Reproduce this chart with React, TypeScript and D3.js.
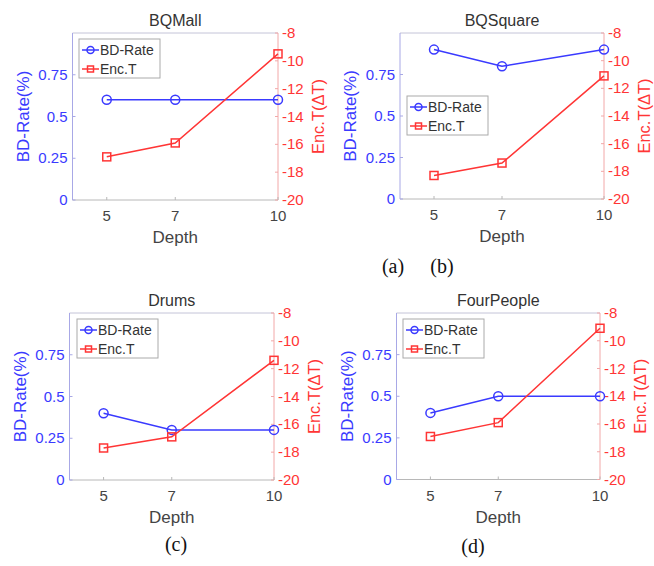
import React from 'react';
import * as d3 from 'd3';

const depths = [5, 7, 10];
const titles = ['BQMall', 'BQSquare', 'Drums', 'FourPeople'];
const bdRate = [
	[0.6, 0.6, 0.6],
	[0.9, 0.8, 0.9],
	[0.4, 0.3, 0.3],
	[0.4, 0.5, 0.5],
];
const encT = [
	[-16.9, -15.9, -9.5],
	[-18.3, -17.4, -11.1],
	[-17.7, -16.9, -11.4],
	[-16.9, -15.9, -9.1],
];
const leftTicks = [0, 0.25, 0.5, 0.75];
const rightTicks = [-20, -18, -16, -14, -12, -10, -8];
const captions = [
	{ text: '(a)', x: 393, y: 273 },
	{ text: '(b)', x: 442, y: 273 },
	{ text: '(c)', x: 176, y: 551 },
	{ text: '(d)', x: 473, y: 553 },
];

// plot boxes and legend spots, in page pixels
const panels = [
	{ left: 72.5, right: 278, top: 33, bottom: 200, lx: 79, ly: 39 },
	{ left: 400, right: 604, top: 33, bottom: 199, lx: 407, ly: 96 },
	{ left: 69.5, right: 274, top: 313, bottom: 480, lx: 77, ly: 319 },
	{ left: 396.5, right: 600, top: 313, bottom: 479.5, lx: 403, ly: 319 },
];

const BLUE = '#3a3aff';
const RED = '#ff3535';
const FONT = 'Liberation Sans, Arial, sans-serif';

const Panel = ({ i }) => {
	const p = panels[i];
	const x = d3.scaleLinear().domain([4, 10]).range([p.left, p.right]);
	const yl = d3.scaleLinear().domain([0, 1]).range([p.bottom, p.top]);
	const yr = d3.scaleLinear().domain([-20, -8]).range([p.bottom, p.top]);
	const bdLine = d3.line<number>().x((d, k) => x(depths[k])).y((d) => yl(d));
	const encLine = d3.line<number>().x((d, k) => x(depths[k])).y((d) => yr(d));
	const midY = (p.top + p.bottom) / 2;
	const cx = (p.left + p.right) / 2;

	return (
		<g fontFamily={ FONT }>
			<text x={ cx } y={ p.top - 7 } textAnchor="middle" fontSize={ 16 } fill="#333">{ titles[i] }</text>
			<line x1={ p.left } x2={ p.right } y1={ p.top } y2={ p.top } stroke="#c4c4d8" />
			<line x1={ p.left } x2={ p.right } y1={ p.bottom } y2={ p.bottom } stroke="#b8b8b8" />
			<line x1={ p.left } x2={ p.left } y1={ p.top } y2={ p.bottom } stroke="#a8a8e6" />
			<line x1={ p.right } x2={ p.right } y1={ p.top } y2={ p.bottom } stroke="#f2a8a8" />

			{ leftTicks.map((t) => (
				<g key={ 'l' + t }>
					<line x1={ p.left } x2={ p.left + 3 } y1={ yl(t) } y2={ yl(t) } stroke="#a8a8e6" />
					<text x={ p.left - 5 } y={ yl(t) + 5 } textAnchor="end" fontSize={ 15 } fill={ BLUE }>{ t }</text>
				</g>
			)) }
			{ rightTicks.map((t) => (
				<g key={ 'r' + t }>
					<line x1={ p.right - 3 } x2={ p.right } y1={ yr(t) } y2={ yr(t) } stroke="#f2a8a8" />
					<text x={ p.right + 4 } y={ yr(t) + 5 } fontSize={ 15 } fill={ RED }>{ t }</text>
				</g>
			)) }
			{ depths.map((d) => (
				<g key={ 'x' + d }>
					<line x1={ x(d) } x2={ x(d) } y1={ p.bottom } y2={ p.bottom - 3 } stroke="#b8b8b8" />
					<text x={ x(d) } y={ p.bottom + 21 } textAnchor="middle" fontSize={ 15 } fill="#444">{ d }</text>
				</g>
			)) }
			<text x={ cx } y={ p.bottom + 43 } textAnchor="middle" fontSize={ 17 } fill="#444">Depth</text>
			<text transform={ `translate(${ p.left - 44 },${ midY }) rotate(-90)` } textAnchor="middle" fontSize={ 17 } fill={ BLUE }>BD-Rate(%)</text>
			<text transform={ `translate(${ p.right + 46 },${ midY }) rotate(-90)` } textAnchor="middle" fontSize={ 16.5 } fill={ RED }>Enc.T(ΔT)</text>

			<path d={ bdLine(bdRate[i]) } fill="none" stroke={ BLUE } strokeWidth={ 1.5 } />
			{ bdRate[i].map((v, k) => (
				<circle key={ 'c' + k } cx={ x(depths[k]) } cy={ yl(v) } r={ 4.5 } fill="none" stroke={ BLUE } strokeWidth={ 1.5 } />
			)) }
			<path d={ encLine(encT[i]) } fill="none" stroke={ RED } strokeWidth={ 1.5 } />
			{ encT[i].map((v, k) => (
				<rect key={ 's' + k } x={ x(depths[k]) - 4 } y={ yr(v) - 4 } width={ 8 } height={ 8 } fill="none" stroke={ RED } strokeWidth={ 1.5 } />
			)) }

			<g transform={ `translate(${ p.lx },${ p.ly })` }>
				<rect width={ 81 } height={ 39 } fill="#fff" stroke="#aaa" />
				<line x1={ 3 } x2={ 20 } y1={ 11 } y2={ 11 } stroke={ BLUE } strokeWidth={ 1.5 } />
				<circle cx={ 11.5 } cy={ 11 } r={ 3.5 } fill="none" stroke={ BLUE } strokeWidth={ 1.5 } />
				<text x={ 21 } y={ 16 } fontSize={ 14 } fill="#333">BD-Rate</text>
				<line x1={ 3 } x2={ 20 } y1={ 30 } y2={ 30 } stroke={ RED } strokeWidth={ 1.5 } />
				<rect x={ 8.5 } y={ 27 } width={ 6 } height={ 6 } fill="none" stroke={ RED } strokeWidth={ 1.5 } />
				<text x={ 21 } y={ 35 } fontSize={ 14 } fill="#333">Enc.T</text>
			</g>
		</g>
	);
};

const App = () => (
	<svg width={ 654 } height={ 566 } style={ { position: 'absolute', left: 0, top: 0, background: '#fff' } }>
		{ panels.map((p, i) => <Panel key={ i } i={ i } />) }
		{ captions.map((c) => (
			<text key={ c.text } x={ c.x } y={ c.y } textAnchor="middle" fontSize={ 20 } fontFamily="Liberation Serif, Times New Roman, serif" fill="#111">{ c.text }</text>
		)) }
	</svg>
);

export default App;
